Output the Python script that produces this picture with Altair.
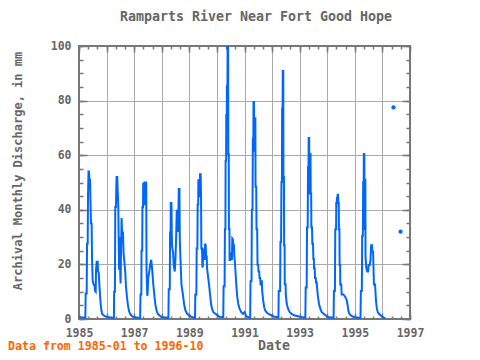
import altair as alt
import pandas as pd

# ---- data: month position within the year (0-12) and discharge (mm)
m_1985 = [0, 1.0, 2.0, 2.76, 2.9, 3.34, 3.5, 3.78, 3.92, 4.14, 4.36, 4.5, 4.8, 4.94, 5.23, 5.5, 5.67, 5.96, 6.4, 6.83,
          6.98, 7.27, 7.41, 7.7, 8.14, 8.28, 8.58, 8.87, 9.3, 9.74, 10.03, 10.9, 11.77]
q_1985 = [0.8, 0.6, 0.5, 0.6, 9.3, 9.3, 27.6, 27.6, 45, 54, 54, 51, 51, 45, 35, 35, 22, 14, 12.6, 12,
          10.3, 10, 18, 21, 21, 17.4, 17, 12.6, 6.7, 3.1, 1.9, 1.2, 0.8]

m_1986 = [0, 1.3, 2.76, 3.2, 3.27, 3.63, 3.78, 4.07, 4.22, 4.36, 4.65, 4.8, 5.1, 5.23, 5.45, 5.67, 5.96, 6.1, 6.25, 6.54,
          6.83, 7.12, 7.41, 7.85, 8.14, 8.43, 8.87, 9.3, 9.74, 10.17, 10.76, 11.48]
q_1986 = [0.8, 0.6, 0.5, 0.6, 10, 10, 41, 41, 48, 52, 52, 48, 41, 31, 18, 30, 16, 13, 23, 37,
          29, 32, 24, 20, 17, 12, 8, 5, 3, 2, 1.3, 0.8]

m_1987 = [0, 1.6, 2.6, 2.76, 3.12, 3.2, 3.5, 3.6, 3.85, 3.92, 4.2, 4.3, 4.43, 4.5, 5.23, 5.38, 5.67, 5.81, 6.1, 6.54,
          6.98, 7.41, 7.85, 8.28, 8.87, 9.3, 9.74, 10.3, 11.05, 11.77]
q_1987 = [0.7, 0.5, 0.5, 9, 9, 25, 25, 41, 41, 49.5, 49.5, 42, 42, 50, 50, 18, 9, 8.5, 15, 17,
          20, 21.7, 18, 13, 7.9, 4.9, 3.1, 1.9, 1.3, 0.8]

m_1988 = [0, 2.0, 2.9, 3.05, 3.49, 3.63, 3.85, 3.92, 4.22, 4.36, 4.5, 4.94, 5.23, 5.67, 5.96, 6.25, 6.54, 6.83, 7.12, 7.27,
          7.41, 7.7, 7.85, 8.14, 8.58, 9.3, 9.74, 10.32, 11.05, 11.77]
q_1988 = [0.7, 0.5, 0.6, 10.9, 10.9, 31.7, 31.7, 42.5, 42.5, 31.7, 26.5, 24.3, 19.5, 17.4, 22, 29.5, 40, 33, 32, 40,
          47.6, 47.6, 29, 22, 12.6, 8.4, 5.3, 3.1, 1.9, 1.5]

m_1989 = [0, 1.45, 2.47, 2.6, 3.05, 3.2, 3.5, 3.63, 3.85, 3.92, 4.22, 4.36, 4.58, 4.65, 4.94, 5.09, 5.23, 5.52, 5.67, 5.89,
          5.96, 6.25, 6.4, 6.69, 6.83, 7.12, 7.27, 7.56, 7.7, 8.14, 8.58, 9.01, 9.45, 9.88, 10.46, 11.34]
q_1989 = [1.2, 0.6, 0.5, 9, 9, 25.8, 25.8, 41.9, 41.9, 50.8, 50.8, 45, 45, 53, 53, 45, 25.8, 25.8, 19.2, 19.2,
          25.8, 25, 22, 22, 27.6, 27, 23.4, 23, 18.6, 15.6, 12.6, 9, 5.5, 3.7, 2.5, 1.9]

m_1990 = [0, 1.16, 2.76, 2.9, 3.34, 3.49, 3.7, 3.78, 4.0, 4.07, 4.29, 4.36, 4.58, 4.65, 4.87, 4.94, 5.16, 5.23, 5.45, 5.52,
          5.81, 5.96, 6.25, 6.54, 6.69, 6.98, 7.12, 7.41, 7.56, 7.99, 8.43, 8.87, 9.3, 9.88, 10.61, 11.34]
q_1990 = [1.5, 0.8, 0.6, 12, 12, 32.9, 32.9, 58, 58, 74.7, 74.7, 85.4, 85.4, 101, 101, 60.4, 60.4, 33, 33, 21.6,
          21.6, 24.3, 22, 22, 29.4, 29, 27, 27, 23.4, 18.6, 12.6, 7.9, 5.5, 3.7, 2.5, 1.9]

m_1991 = [0, 0.73, 1.74, 2.47, 2.62, 3.05, 3.2, 3.49, 3.63, 3.85, 3.92, 4.14, 4.22, 4.43, 4.51, 4.72, 4.8, 5.09, 5.23, 5.52,
          5.67, 5.96, 6.1, 6.4, 6.54, 6.83, 6.98, 7.2, 7.27, 7.56, 7.7, 8.14, 8.58, 9.01, 9.88, 10.9]
q_1991 = [2.5, 1, 0.6, 0.5, 13.8, 13.8, 40, 40, 66, 66, 79.5, 79.5, 61.6, 61.6, 73.5, 73.5, 48.4, 48.4, 32.9, 32.9,
          19.8, 19.8, 17.4, 17.4, 15, 15, 12.6, 12.6, 13.8, 13.8, 10.3, 6.7, 4.3, 3.1, 2.2, 1.7]

m_1992 = [0, 1.16, 2.76, 2.9, 3.49, 3.63, 3.92, 4.07, 4.29, 4.36, 4.58, 4.65, 4.87, 4.94, 5.16, 5.23, 5.45, 5.52, 5.89, 5.96,
          6.4, 6.98, 7.7, 8.43, 9.88, 11.34]
q_1992 = [1.2, 0.8, 0.6, 10.3, 10.3, 28.2, 28.2, 50.2, 50.2, 77.1, 77.1, 90.8, 90.8, 52, 52, 27, 27, 12.6, 12.6, 9,
          5.5, 3.7, 2.5, 1.9, 1.3, 1]

m_1993 = [0, 1.45, 2.47, 2.62, 3.05, 3.2, 3.49, 3.63, 3.85, 3.92, 4.14, 4.22, 4.43, 4.51, 4.72, 4.8, 5.01, 5.09, 5.38, 5.52,
          5.81, 5.96, 6.18, 6.25, 6.54, 6.69, 6.98, 7.12, 7.41, 7.56, 7.99, 8.43, 9.01, 9.59, 10.46, 11.34]
q_1993 = [0.8, 0.6, 0.5, 11.5, 11.5, 33.5, 33.5, 55.6, 55.6, 66.3, 66.3, 46, 46, 60.4, 60.4, 46, 46, 33.5, 33.5, 27.6,
          27.6, 22, 22, 18.6, 18.6, 15, 15, 13.4, 13.4, 11.5, 7.9, 5.5, 3.7, 2.5, 1.9, 1.3]

m_1994 = [0, 1.16, 2.76, 2.9, 3.34, 3.49, 3.85, 3.92, 4.14, 4.22, 4.43, 4.51, 4.72, 4.8, 5.01, 5.09, 5.3, 5.38, 5.6, 5.67,
          6.1, 6.25, 7.0, 7.6, 8.2, 8.5, 8.9, 9.2, 9.6, 10.3, 11.3]
q_1994 = [0.8, 0.6, 0.5, 10.3, 10.3, 32.9, 32.9, 42.5, 42.5, 44.3, 44.3, 45.5, 45.5, 42.5, 42.5, 32.9, 32.9, 19.8, 19.8, 12.6,
          12.6, 9, 9, 8.4, 7.5, 6.7, 4.9, 3, 1.9, 1.3, 0.8]

m_1995 = [0, 1.45, 2.47, 2.62, 3.05, 3.2, 3.49, 3.63, 3.85, 3.92, 4.14, 4.22, 4.29, 4.36, 4.58, 4.65, 5.0, 5.4, 5.8, 6.0,
          6.5, 6.8, 7.1, 7.5, 7.6, 7.95, 8.05, 8.3, 8.8, 9.2, 9.6, 10.0, 10.5, 11.3]
q_1995 = [0.6, 0.5, 0.5, 10.3, 10.3, 30.5, 30.5, 50.2, 50.2, 60.4, 60.4, 33, 33, 51, 51, 23, 18.6, 17.4, 17.4, 19.8,
          19.8, 21.6, 27, 27, 24.6, 24.6, 21, 12.6, 12.6, 6.7, 3.7, 2.5, 1.9, 1.3]

m_1996 = [0, 0.5, 1.3]
q_1996 = [0.8, 0.5, 0.3]

# isolated 1996 values (no neighbours, drawn as dots)
m_1996_iso = [4.8, 7.9]
q_1996_iso = [77.5, 32]

TITLE = "Ramparts River Near Fort Good Hope"
Y_TITLE = "Archival Monthly Discharge, in mm"
X_TITLE = "Date"
FOOTER = "Data from 1985-01 to 1996-10"
x_years = list(range(1985, 1998))
x_minor = [1985 + i / 3.0 for i in range(37)]
y_labels = [0, 20, 40, 60, 80, 100]
y_minor = list(range(0, 101, 5))

# ---- build tables
years_data = [
    (1985, m_1985, q_1985), (1986, m_1986, q_1986), (1987, m_1987, q_1987),
    (1988, m_1988, q_1988), (1989, m_1989, q_1989), (1990, m_1990, q_1990),
    (1991, m_1991, q_1991), (1992, m_1992, q_1992), (1993, m_1993, q_1993),
    (1994, m_1994, q_1994), (1995, m_1995, q_1995), (1996, m_1996, q_1996),
]
rows = []
for yr, ms, qs in years_data:
    for m, q in zip(ms, qs):
        rows.append({"t": yr + m / 12.0, "q": q})
line_df = pd.DataFrame(rows)
iso_df = pd.DataFrame({"t": [1996 + m / 12.0 for m in m_1996_iso], "q": q_1996_iso})

W, H = 331, 273
FONT = "DejaVu Sans Mono"
GRAY = "#666666"
FRAME = "#777777"
BLUE = "#0066ff"

xs = alt.Scale(domain=[1985, 1997], nice=False, zero=False)
ys = alt.Scale(domain=[0, 100], nice=False)


def tick_axis(orient, values, size):
    return alt.Axis(orient=orient, values=values, offset=-size, tickSize=size, tickWidth=1.5,
                    tickColor=FRAME, ticks=True, labels=False, domain=False, grid=False, title=None)


# gridlines
grid_layer = alt.Chart(iso_df).mark_point(opacity=0).encode(
    x=alt.X("t:Q", scale=xs, axis=alt.Axis(orient="bottom", values=x_years[1:-1], grid=True,
                                            gridColor="#aaaaaa", gridWidth=1, ticks=False, labels=False,
                                            domain=False, title=None)),
    y=alt.Y("q:Q", scale=ys, axis=alt.Axis(orient="left", values=y_labels[1:-1], grid=True,
                                            gridColor="#aaaaaa", gridWidth=1, ticks=False, labels=False,
                                            domain=False, title=None)),
)

line = alt.Chart(line_df).mark_line(color=BLUE, strokeWidth=2, clip=True).encode(
    x=alt.X("t:Q", scale=xs, axis=alt.Axis(
        orient="bottom", values=x_years, format="d",
        labelExpr="datum.value % 2 == 1 ? datum.label : ''",
        ticks=False, tickSize=0, domain=False, grid=False, labelPadding=8,
        labelFont=FONT, labelFontSize=11.5, labelFontWeight="bold", labelColor=GRAY,
        labelFlush=False, labelOverlap=False, title=None)),
    y=alt.Y("q:Q", scale=ys, axis=alt.Axis(
        orient="left", values=y_labels, ticks=False, tickSize=0, domain=False, grid=False,
        labelPadding=8, labelFont=FONT, labelFontSize=11.5, labelFontWeight="bold",
        labelColor=GRAY, title=None)),
    order="t:Q",
)

iso = alt.Chart(iso_df).mark_circle(color=BLUE, size=18, opacity=1).encode(
    x=alt.X("t:Q", scale=xs, axis=tick_axis("bottom", x_years, 6)),
    y=alt.Y("q:Q", scale=ys, axis=tick_axis("left", y_labels, 8)),
)
t2 = alt.Chart(iso_df).mark_point(opacity=0).encode(
    x=alt.X("t:Q", scale=xs, axis=tick_axis("bottom", x_minor, 3)),
    y=alt.Y("q:Q", scale=ys, axis=tick_axis("left", y_minor, 4)),
)
t3 = alt.Chart(iso_df).mark_point(opacity=0).encode(
    x=alt.X("t:Q", scale=xs, axis=tick_axis("top", x_years, 6)),
    y=alt.Y("q:Q", scale=ys, axis=tick_axis("right", y_labels, 8)),
)
t4 = alt.Chart(iso_df).mark_point(opacity=0).encode(
    x=alt.X("t:Q", scale=xs, axis=tick_axis("top", x_minor, 3)),
    y=alt.Y("q:Q", scale=ys, axis=tick_axis("right", y_minor, 4)),
)


def label(text, x, y, size, color=GRAY, align="center", angle=0):
    kw = dict(font=FONT, fontSize=size, fontWeight="bold", color=color, align=align, baseline="middle")
    if angle:
        kw["angle"] = angle
    return alt.Chart(pd.DataFrame({"s": [text]})).mark_text(**kw).encode(
        x=alt.value(x), y=alt.value(y), text="s:N")


title_t = label(TITLE, 177, -29, 13.3)
ytitle_t = label(Y_TITLE, -61, 125, 12, angle=270)
xtitle_t = label(X_TITLE, 195, 300, 13.3)
footer_t = label(FOOTER, -71, 301, 11.6, color="#ff6600", align="left")

chart = alt.layer(grid_layer, line, iso, t2, t3, t4, title_t, ytitle_t, xtitle_t, footer_t).resolve_axis(
    x="independent", y="independent"
).properties(
    width=W, height=H,
    autosize=alt.AutoSizeParams(type="none"),
    padding={"left": 71, "top": 38, "right": 40, "bottom": 33},
).configure_view(stroke=FRAME, strokeWidth=2)

chart.save("out.html", embed_options={"renderer": "svg", "actions": False})
